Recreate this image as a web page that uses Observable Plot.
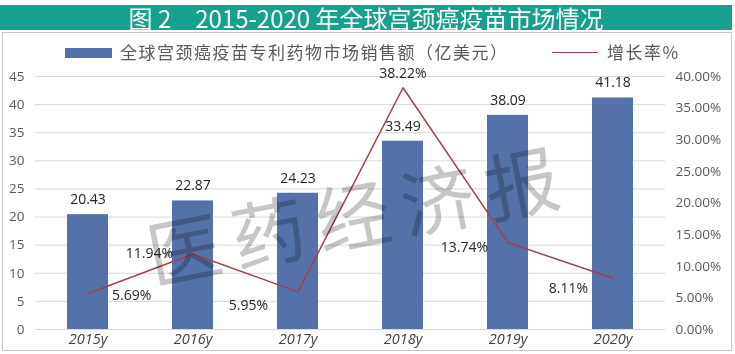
<!DOCTYPE html>
<html><head><meta charset="utf-8">
<script src="https://cdn.jsdelivr.net/npm/d3@7"></script>
<script src="https://cdn.jsdelivr.net/npm/@observablehq/plot@0.6"></script>
<style>
body{margin:0;background:#fff;}
#wrap{position:relative;width:735px;height:354px;overflow:hidden;font-family:"Noto Sans CJK SC",sans-serif;background:#fff;}
#title{position:absolute;left:0;top:5px;width:732px;height:25px;background:#17a08e;color:#fff;font-size:24px;line-height:25px;white-space:nowrap;text-align:center;}
#frame{position:absolute;left:2px;top:32px;width:730px;height:319px;border:1px solid #c8c8c8;box-sizing:border-box;}
#chart{position:absolute;left:0;top:0;}
.leg{position:absolute;font-size:17px;letter-spacing:1.5px;color:#595959;line-height:20px;white-space:nowrap;}
#wm{position:absolute;left:358px;top:211px;transform:translate(-50%,-50%) rotate(-11deg);font-size:74px;letter-spacing:12px;color:#c6c6c6;mix-blend-mode:multiply;white-space:nowrap;pointer-events:none;font-family:"Noto Sans CJK SC",serif;font-weight:400;}
</style></head>
<body>
<div id="wrap">
  <div id="title">图 2　2015-2020 年全球宫颈癌疫苗市场情况</div>
  <div id="frame"></div>
  <div id="chart"></div>
  <div class="leg" style="left:65px;top:48px;width:47px;height:10px;background:#5571aa;"></div>
  <div class="leg" style="left:120px;top:42px;" id="leg1"></div>
  <div class="leg" style="left:552px;top:52px;width:46px;height:0;border-top:1.5px solid #a3404c;"></div>
  <div class="leg" style="left:607px;top:42px;" id="leg2"></div>
  <div id="wm">医药经济报</div>
</div>
<script>
const years = ["2015y", "2016y", "2017y", "2018y", "2019y", "2020y"];
const sales = [20.43, 22.87, 24.23, 33.49, 38.09, 41.18];
const growth = [5.69, 11.94, 5.95, 38.22, 13.74, 8.11];
const leftTicks = [0, 5, 10, 15, 20, 25, 30, 35, 40, 45];
const rightTicks = [0, 5, 10, 15, 20, 25, 30, 35, 40];
const salesName = "全球宫颈癌疫苗专利药物市场销售额（亿美元）";
const growthName = "增长率%";

// label placement for the growth labels (layout, not data)
const growthLabelLayout = [
  {dx: 24, dy: 2, anchor: "start"},
  {dx: -20, dy: 0, anchor: "end"},
  {dx: -30, dy: 14, anchor: "end"},
  {dx: 0, dy: -14, anchor: "middle"},
  {dx: -20, dy: 5, anchor: "end"},
  {dx: -25, dy: 10, anchor: "end"}
];

document.getElementById("leg1").textContent = salesName;
document.getElementById("leg2").textContent = growthName;

const yMax = 45, rMax = 40;
const toLeft = r => r * yMax / rMax;

const table = years.map((y, i) => ({year: y, sales: sales[i], growth: growth[i], gy: toLeft(growth[i])}));

const growthTextMarks = table.map((d, i) => Plot.text([d], {
  x: "year", y: "gy", text: d => d.growth.toFixed(2) + "%",
  dx: growthLabelLayout[i].dx, dy: growthLabelLayout[i].dy,
  textAnchor: growthLabelLayout[i].anchor, fill: "#262626", fontSize: 14
}));

const chart = Plot.plot({
  width: 735, height: 354,
  marginTop: 76, marginBottom: 25, marginLeft: 35, marginRight: 70,
  style: {fontFamily: "'Open Sans', sans-serif", fontSize: "13px", background: "transparent", overflow: "visible"},
  x: {domain: years, paddingInner: 0.61, paddingOuter: 0.305, label: null},
  y: {domain: [0, yMax], label: null},
  marks: [
    Plot.gridY(leftTicks, {stroke: "#d9d9d9", strokeOpacity: 1, strokeWidth: 1}),
    Plot.axisY(leftTicks, {anchor: "left", tickSize: 0, tickPadding: 11, fill: "#595959", fontSize: 13.5, label: null}),
    Plot.axisY(rightTicks.map(toLeft), {anchor: "right", tickSize: 0, tickPadding: 10, fill: "#595959", fontSize: 13.5, label: null,
      tickFormat: d => (d * rMax / yMax).toFixed(2) + "%"}),
    Plot.axisX({tickSize: 0, tickPadding: 4, fill: "#404040", fontSize: 14.5, fontStyle: "italic", label: null}),
    Plot.barY(table, {x: "year", y: "sales", fill: "#5571aa"}),
    Plot.text(table, {x: "year", y: "sales", text: d => d.sales.toFixed(2), dy: -15, fill: "#262626", fontSize: 14}),
    Plot.line(table, {x: "year", y: "gy", stroke: "#a3404c", strokeWidth: 1.5}),
    ...growthTextMarks
  ]
});
document.getElementById("chart").appendChild(chart);
</script>
</body></html>
